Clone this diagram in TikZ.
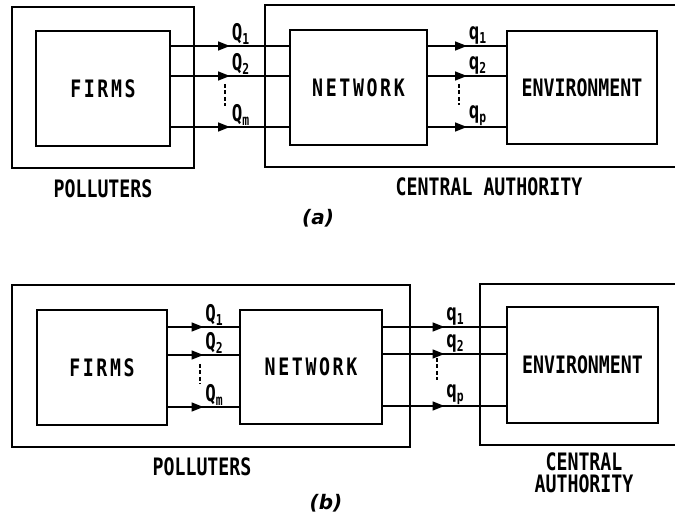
\documentclass[tikz,border=0pt]{standalone}
\usepackage{fontspec}
\newfontfamily\lettering{DejaVu Sans Mono}[FakeStretch=0.76]
\newfontfamily\wideletter{DejaVu Sans Mono}[FakeStretch=0.76,LetterSpace=11]
\newfontfamily\capfont{DejaVu Sans}
\usetikzlibrary{arrows.meta,decorations.markings}

\newcommand{\lowidx}[1]{\raisebox{-0.3ex}{\fontsize{15}{15}\selectfont #1}}

\tikzset{
  panel/.style={line width=1.8pt},
  unit/.style={draw, rectangle, line width=2.8pt, inner sep=0pt,
    font=\lettering\bfseries\fontsize{24}{26}\selectfont},
  wide/.style={font=\wideletter\bfseries\fontsize{24}{26}\selectfont},
  flow/.style={line width=1.6pt, postaction={decorate},
    decoration={markings,
      mark=at position 0.5 with {\arrow{Triangle[length=12pt,width=9pt]}}}},
  qlab/.style={anchor=south west, inner sep=1pt,
    font=\lettering\bfseries\fontsize{23}{24}\selectfont},
  tag/.style={align=center, inner sep=0pt,
    font=\lettering\bfseries\fontsize{24}{22}\selectfont},
  ellip/.style={line width=1.6pt, dash pattern=on 4pt off 2.5pt},
  caption/.style={font=\capfont\bfseries\itshape\fontsize{20}{20}\selectfont}
}

\begin{document}
\begin{tikzpicture}[x=1pt,y=-1pt]
  \useasboundingbox (0,0) rectangle (675,521);

  % (a) polluters hold the firms, the authority holds network and environment
  \draw[panel] (12,7) rectangle (194,168);
  \draw[panel] (675,5) -- (265,5) -- (265,167) -- (675,167);
  \node[unit, wide, minimum width=134, minimum height=115] (firmsA) at (103,88.5) {FIRMS};
  \node[unit, wide, minimum width=137, minimum height=115] (netA) at (358.5,87.5) {NETWORK};
  \node[unit, minimum width=150, minimum height=113] (envA) at (582,87.5) {ENVIRONMENT};

  \draw[flow] (firmsA.east |- 0,46) -- node[qlab] {Q\lowidx{1}} (netA.west |- 0,46);
  \draw[flow] (firmsA.east |- 0,76) -- node[qlab] {Q\lowidx{2}} (netA.west |- 0,76);
  \draw[flow] (firmsA.east |- 0,127) -- node[qlab] {Q\lowidx{m}} (netA.west |- 0,127);
  \draw[ellip] (225,84) -- (225,106);

  \draw[flow] (netA.east |- 0,46) -- node[qlab] {q\lowidx{1}} (envA.west |- 0,46);
  \draw[flow] (netA.east |- 0,76) -- node[qlab] {q\lowidx{2}} (envA.west |- 0,76);
  \draw[flow] (netA.east |- 0,127) -- node[qlab] {q\lowidx{p}} (envA.west |- 0,127);
  \draw[ellip] (459,84) -- (459,105);

  \node[tag] (polA) at (103,189) {POLLUTERS};
  \node[tag] (authA) at (489,187) {CENTRAL AUTHORITY};
  \node[caption] (capA) at (318,218) {(a)};

  % (b) polluters hold firms and network, the authority only the environment
  \draw[panel] (12,285) rectangle (410,447);
  \draw[panel] (675,284) -- (480,284) -- (480,445) -- (675,445);
  \node[unit, wide, minimum width=130, minimum height=115] (firmsB) at (102,367.5) {FIRMS};
  \node[unit, wide, minimum width=142, minimum height=114] (netB) at (311,367) {NETWORK};
  \node[unit, minimum width=151, minimum height=116] (envB) at (582.5,365) {ENVIRONMENT};

  \draw[flow] (firmsB.east |- 0,327) -- node[qlab] {Q\lowidx{1}} (netB.west |- 0,327);
  \draw[flow] (firmsB.east |- 0,355) -- node[qlab] {Q\lowidx{2}} (netB.west |- 0,355);
  \draw[flow] (firmsB.east |- 0,407) -- node[qlab] {Q\lowidx{m}} (netB.west |- 0,407);
  \draw[ellip] (200,364) -- (200,384);

  \draw[flow] (netB.east |- 0,327) -- node[qlab] {q\lowidx{1}} (envB.west |- 0,327);
  \draw[flow] (netB.east |- 0,354) -- node[qlab] {q\lowidx{2}} (envB.west |- 0,354);
  \draw[flow] (netB.east |- 0,406) -- node[qlab] {q\lowidx{p}} (envB.west |- 0,406);
  \draw[ellip] (437,358) -- (437,380);

  \node[tag] (polB) at (202,467) {POLLUTERS};
  \node[tag] (authB) at (584,473) {CENTRAL\\AUTHORITY};
  \node[caption] (capB) at (326,503) {(b)};
\end{tikzpicture}
\end{document}
